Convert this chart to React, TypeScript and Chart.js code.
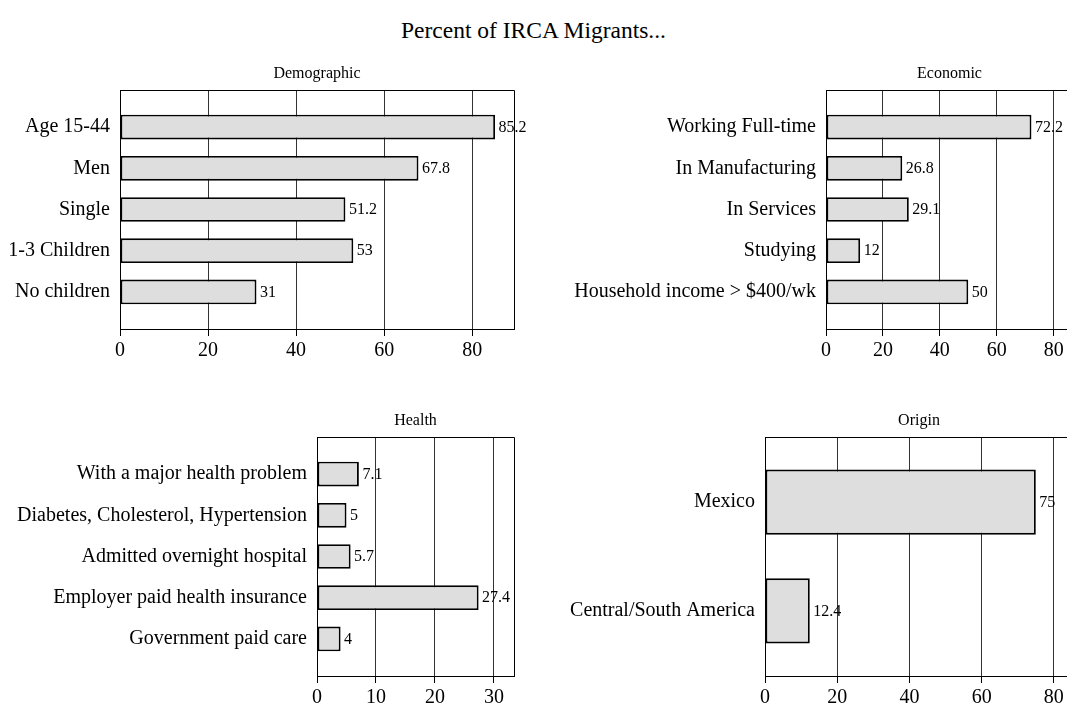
import React, { useEffect, useRef } from "react";
import { Chart, registerables } from "chart.js";

Chart.register(...registerables);

const FONT = "'Liberation Serif', 'Times New Roman', serif";

const mainTitle = "Percent of IRCA Migrants...";

const demoTitle = "Demographic";
const demoLabels = ["Age 15-44", "Men", "Single", "1-3 Children", "No children"];
const demoValues = [85.2, 67.8, 51.2, 53, 31];
const demoTicks = [0, 20, 40, 60, 80];

const econTitle = "Economic";
const econLabels = [
  "Working Full-time",
  "In Manufacturing",
  "In Services",
  "Studying",
  "Household income > $400/wk",
];
const econValues = [72.2, 26.8, 29.1, 12, 50];
const econTicks = [0, 20, 40, 60, 80];

const healthTitle = "Health";
const healthLabels = [
  "With a major health problem",
  "Diabetes, Cholesterol, Hypertension",
  "Admitted overnight hospital",
  "Employer paid health insurance",
  "Government paid care",
];
const healthValues = [7.1, 5, 5.7, 27.4, 4];
const healthTicks = [0, 10, 20, 30];

const originTitle = "Origin";
const originLabels = ["Mexico", "Central/South America"];
const originValues = [75, 12.4];
const originTicks = [0, 20, 40, 60, 80];

type PanelDef = {
  title: string;
  labels: string[];
  values: number[];
  ticks: number[];
  xMax: number;
  yPad: number;
  left: number;
  top: number;
  w: number;
  h: number;
  padTop: number;
  padRight: number;
  yAxisWidth: number;
};

const framePlugin = {
  id: "frame",
  afterDraw(chart: any, _args: any, opts: any) {
    const { ctx, chartArea: a } = chart;
    ctx.save();
    ctx.strokeStyle = "#000";
    ctx.lineWidth = 1;
    const top = Math.round(a.top - 0.5) + 0.5;
    const right = Math.round(a.right - 0.5) + 0.5;
    ctx.beginPath();
    ctx.moveTo(a.left, top);
    ctx.lineTo(right, top);
    ctx.lineTo(right, a.bottom);
    ctx.stroke();
    ctx.fillStyle = "#000";
    ctx.font = `16px ${FONT}`;
    ctx.textAlign = "center";
    ctx.textBaseline = "middle";
    ctx.fillText(opts.title, (a.left + a.right) / 2, a.top - 16);
    const meta = chart.getDatasetMeta(0);
    ctx.textAlign = "left";
    meta.data.forEach((el: any, i: number) => {
      ctx.fillText(String(opts.values[i]), el.x + 3.5, el.y + 0.5);
    });
    ctx.restore();
  },
};

function Panel({ p }: { p: PanelDef }) {
  const ref = useRef<HTMLCanvasElement>(null);
  useEffect(() => {
    const chart = new Chart(ref.current as HTMLCanvasElement, {
      type: "bar",
      data: {
        datasets: [
          {
            data: p.values.map((v, i) => ({ x: v, y: i })) as any,
            backgroundColor: "#dedede",
            borderColor: "#000",
            borderWidth: 1.9,
            borderSkipped: false,
            categoryPercentage: 1,
            barPercentage: 0.6,
          } as any,
        ],
      },
      options: {
        indexAxis: "y",
        responsive: false,
        maintainAspectRatio: false,
        animation: false,
        layout: { padding: { top: p.padTop, left: 0, right: p.padRight, bottom: 0 } },
        plugins: {
          legend: { display: false },
          tooltip: { enabled: false },
          title: { display: false },
          frame: { title: p.title, values: p.values },
        } as any,
        scales: {
          x: {
            type: "linear",
            position: "bottom",
            min: 0,
            max: p.xMax,
            offset: false,
            afterBuildTicks: (ax: any) => {
              ax.ticks = p.ticks.map((v) => ({ value: v }));
            },
            afterFit: (ax: any) => {
              ax.height = 40;
            },
            grid: { color: "#333", lineWidth: 1, tickLength: 7, drawTicks: true, tickColor: "#000", offset: false },
            border: { display: true, color: "#000", width: 1 },
            ticks: {
              color: "#000",
              font: { family: FONT, size: 20 },
              padding: 3,
              autoSkip: false,
              maxRotation: 0,
              minRotation: 0,
            },
          },
          y: {
            type: "linear",
            position: "left",
            reverse: true,
            offset: false,
            bounds: "data",
            min: -p.yPad,
            max: p.labels.length - 1 + p.yPad,
            afterBuildTicks: (ax: any) => {
              ax.ticks = p.labels.map((_, i) => ({ value: i }));
            },
            afterFit: (ax: any) => {
              ax.width = p.yAxisWidth;
            },
            grid: { display: false, drawTicks: false, offset: false },
            border: { display: true, color: "#000", width: 1 },
            ticks: {
              color: "#000",
              font: { family: FONT, size: 20 },
              padding: 10,
              autoSkip: false,
              callback: (v: any) => p.labels[Math.round(Number(v))],
            },
          },
        } as any,
      },
      plugins: [framePlugin as any],
    });
    return () => chart.destroy();
  }, [p]);
  return (
    <canvas
      ref={ref}
      width={p.w}
      height={p.h}
      style={{ position: "absolute", left: p.left, top: p.top, width: p.w, height: p.h }}
    />
  );
}

const panels: PanelDef[] = [
  {
    title: demoTitle, labels: demoLabels, values: demoValues, ticks: demoTicks,
    xMax: 89.5, yPad: 0.9, left: 0, top: 40, w: 540, h: 329, padTop: 50, padRight: 26, yAxisWidth: 120,
  },
  {
    title: econTitle, labels: econLabels, values: econValues, ticks: econTicks,
    xMax: 86.8, yPad: 0.9, left: 540, top: 40, w: 560, h: 329, padTop: 50, padRight: 27, yAxisWidth: 286,
  },
  {
    title: healthTitle, labels: healthLabels, values: healthValues, ticks: healthTicks,
    xMax: 33.4, yPad: 0.9, left: 0, top: 390, w: 540, h: 326, padTop: 47, padRight: 26, yAxisWidth: 317,
  },
  {
    title: originTitle, labels: originLabels, values: originValues, ticks: originTicks,
    xMax: 85.3, yPad: 0.6, left: 540, top: 390, w: 560, h: 326, padTop: 47, padRight: 27, yAxisWidth: 225,
  },
];

export default function App() {
  return (
    <div
      style={{
        position: "absolute",
        left: 0,
        top: 0,
        width: 1067,
        height: 708,
        overflow: "hidden",
        background: "#fff",
      }}
    >
      <div
        style={{
          position: "absolute",
          left: 0,
          top: 16,
          width: 1067,
          textAlign: "center",
          fontFamily: FONT,
          fontSize: 23.5,
          lineHeight: "28px",
          color: "#000",
        }}
      >
        {mainTitle}
      </div>
      {panels.map((p) => (
        <Panel key={p.title} p={p} />
      ))}
    </div>
  );
}
